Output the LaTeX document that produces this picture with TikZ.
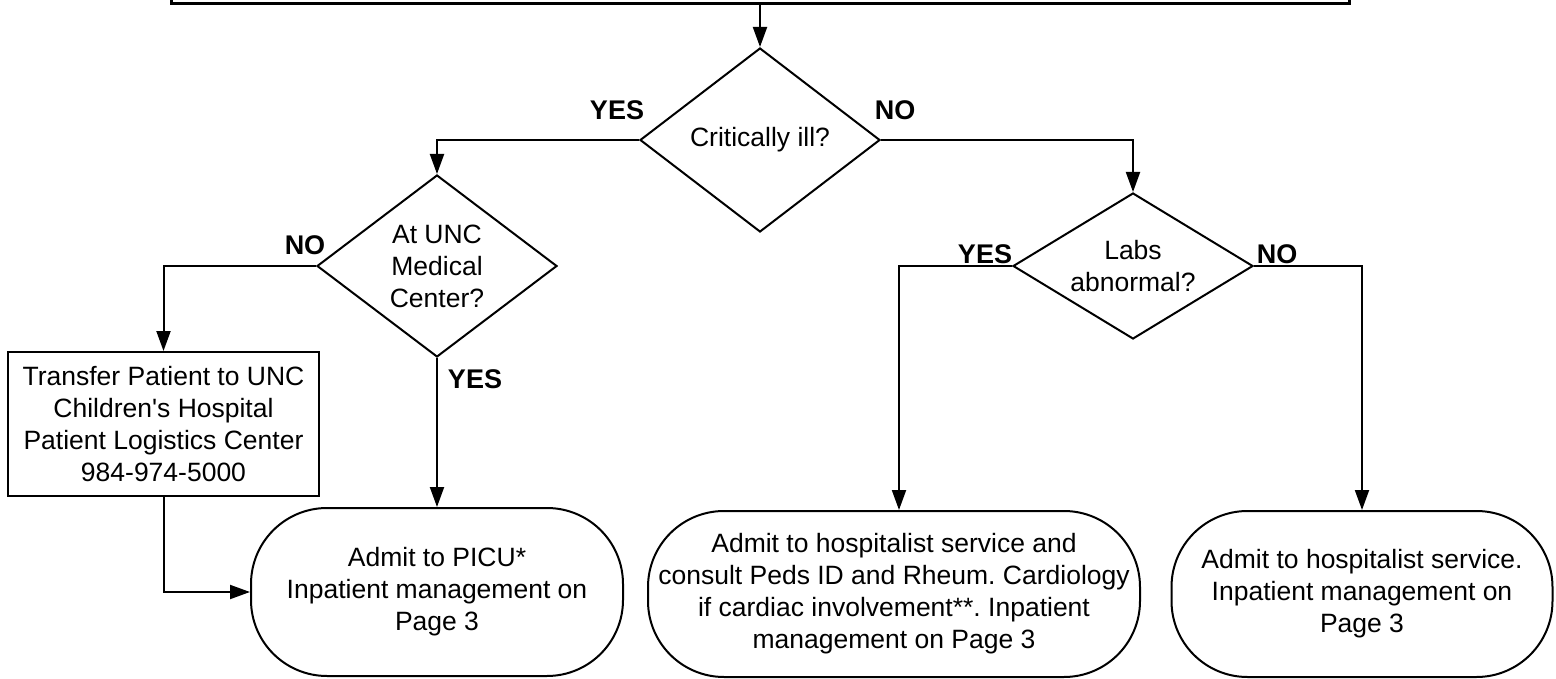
\documentclass[tikz,border=0pt]{standalone}
\usepackage{fontspec}
\setmainfont{Liberation Sans}
\usetikzlibrary{shapes.geometric,arrows.meta}
\frenchspacing
\begin{document}
\begin{tikzpicture}[x=1pt,y=-1pt,
  every node/.style={font=\fontsize{26.5}{32}\selectfont, align=center},
  arr/.style={line width=2pt,-{Triangle[length=20pt,width=14pt]}},
  dia/.style={draw,line width=2pt,diamond,inner sep=0pt},
  boxr/.style={draw,line width=2pt,rectangle,inner sep=2pt},
  term/.style={draw,line width=2pt,rectangle,rounded corners=76pt,inner sep=1pt},
  lab/.style={font=\fontsize{27}{32}\selectfont\bfseries}]
\useasboundingbox (0,0) rectangle (1556,679);
\clip (0,0) rectangle (1556,679);
\node[draw,line width=3pt,minimum width=1178pt,minimum height=70pt,inner sep=0pt] (top) at (760,-31) {};
\node[dia,aspect=1.3,minimum width=240pt,minimum height=184pt] (d1) at (760,140) {Critically ill?};
\node[dia,aspect=1.32,minimum width=240pt,minimum height=182pt] (d2) at (437,266) {At UNC\\Medical\\Center?};
\node[dia,aspect=1.64,minimum width=240pt,minimum height=146pt] (d3) at (1133,266) {Labs\\abnormal?};
\node[boxr,minimum width=311pt,minimum height=144pt] (tr) at (163.5,424) {Transfer Patient to UNC\\Children\textquotesingle s Hospital\\Patient Logistics Center\\984-974-5000};
\node[term,minimum width=372pt,minimum height=168pt] (picu) at (437,592) {Admit to PICU*\\Inpatient management on\\Page 3};
\node[term,minimum width=492pt,minimum height=166pt] (b2) at (894,594) {Admit to hospitalist service and\\consult Peds ID and Rheum. Cardiology\\if cardiac involvement**. Inpatient\\management on Page 3};
\node[term,minimum width=381pt,minimum height=166pt] (b3) at (1362,594) {Admit to hospitalist service.\\Inpatient management on\\Page 3};
\node[lab] (y1) at (617,110) {YES};
\node[lab] (n1) at (895,110) {NO};
\node[lab] (n2) at (305,245) {NO};
\node[lab] (y2) at (475,379) {YES};
\node[lab] (y3) at (985,254) {YES};
\node[lab] (n3) at (1277,254) {NO};
\draw[arr] (top.south) -- (d1.north);
\draw[arr] (d1.west) -| (d2.north);
\draw[arr] (d1.east) -| (d3.north);
\draw[arr] (d2.west) -| (tr.north);
\draw[arr] (d2.south) -- (picu.north);
\draw[arr] (tr.south) |- (picu.west);
\draw[arr] (d3.west) -| ([xshift=5pt]b2.north);
\draw[arr] (d3.east) -| (b3.north);
\end{tikzpicture}
\end{document}
